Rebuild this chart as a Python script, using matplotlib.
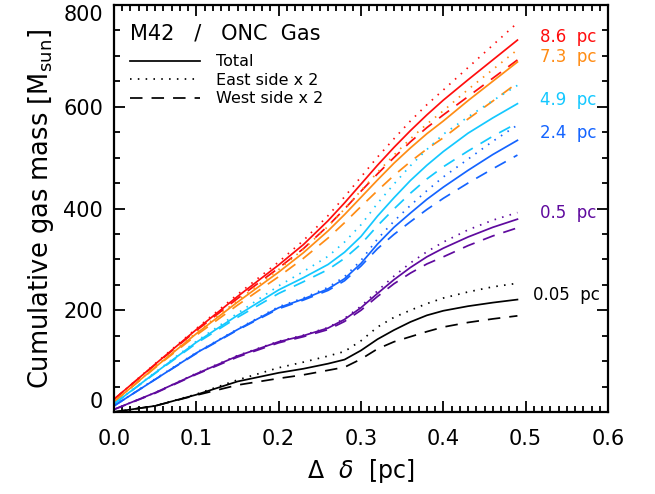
import numpy as np
import matplotlib
matplotlib.use("Agg")
import matplotlib.pyplot as plt
from matplotlib.lines import Line2D
from matplotlib.ticker import MultipleLocator, FormatStrFormatter

plt.rcParams['font.family'] = ['DejaVu Sans']
plt.rcParams['mathtext.fontset'] = 'dejavusans'

# ---- data ----
x = [0.0, 0.05, 0.10, 0.15, 0.20, 0.23, 0.26, 0.28, 0.30, 0.32, 0.34, 0.36,
     0.38, 0.40, 0.43, 0.46, 0.49]

radii = ["8.6 pc", "7.3 pc", "4.9 pc", "2.4 pc", "0.5 pc", "0.05 pc"]
colors = ["#FF0D0D", "#FF8C14", "#14C8FF", "#1464FF", "#5F0A9E", "#000000"]

total = {
    "8.6 pc": [25, 94, 162, 227, 289, 329, 376, 411, 448, 485, 520, 553, 584, 613, 653, 692, 731],
    "7.3 pc": [20, 88, 154, 216, 275, 313, 356, 388, 422, 456, 489, 519, 547, 572, 612, 650, 688],
    "4.9 pc": [16, 77, 137, 190, 240, 264, 290, 314, 345, 385, 421, 455, 485, 512, 548, 578, 606],
    "2.4 pc": [12, 64, 116, 162, 205, 222, 242, 262, 292, 330, 363, 391, 418, 442, 475, 506, 534],
    "0.5 pc": [5, 38, 75, 110, 138, 150, 165, 182, 205, 233, 260, 284, 305, 322, 344, 363, 379],
    "0.05 pc": [0, 12, 34, 60, 77, 85, 95, 103, 121, 143, 161, 177, 190, 199, 208, 215, 221],
}
east = {
    "8.6 pc": [25, 95, 164, 231, 295, 337, 386, 423, 462, 501, 537, 572, 604, 633, 677, 721, 765],
    "7.3 pc": [20, 89, 156, 219, 280, 320, 365, 399, 435, 471, 505, 537, 566, 592, 634, 673, 712],
    "4.9 pc": [16, 78, 139, 194, 248, 276, 306, 334, 368, 410, 448, 484, 516, 546, 580, 612, 642],
    "2.4 pc": [12, 65, 117, 163, 207, 224, 245, 266, 298, 340, 375, 406, 435, 462, 497, 532, 564],
    "0.5 pc": [5, 38, 76, 111, 139, 151, 166, 184, 208, 238, 267, 293, 315, 334, 358, 377, 392],
    "0.05 pc": [0, 12, 35, 63, 87, 98, 110, 119, 140, 167, 186, 200, 213, 224, 236, 246, 253],
}
west = {
    "8.6 pc": [25, 93, 160, 223, 283, 321, 366, 399, 434, 468, 500, 531, 559, 584, 620, 656, 692],
    "7.3 pc": [20, 87, 151, 210, 266, 302, 342, 372, 404, 435, 465, 492, 517, 539, 576, 611, 647],
    "4.9 pc": [16, 76, 135, 186, 233, 256, 280, 302, 330, 366, 399, 430, 458, 482, 513, 542, 568],
    "2.4 pc": [12, 64, 115, 161, 203, 220, 239, 258, 287, 321, 349, 374, 398, 420, 450, 478, 505],
    "0.5 pc": [5, 37, 74, 108, 136, 148, 162, 178, 200, 227, 252, 273, 291, 305, 327, 346, 362],
    "0.05 pc": [0, 12, 33, 53, 66, 73, 82, 88, 104, 124, 138, 148, 158, 167, 176, 183, 189],
}
label_y = [737, 698, 613, 548, 391, 230]

# ---- figure ----
fig = plt.figure(figsize=(6.55, 4.94), dpi=100)
ax = fig.add_axes([114/655, 1-412/494, 494/655, 407/494])

lw = 1.25
dash = (0, (9.0/lw, 6.5/lw))
dot = (0, (0.9, 3.6))
for r, c in zip(radii, colors):
    ax.plot(x, total[r], color=c, lw=lw, ls='-')
    ax.plot(x, east[r], color=c, lw=lw, ls=dot)
    ax.plot(x, west[r], color=c, lw=lw, ls=dash)

for r, c, ly in zip(radii, colors, label_y):
    lx = 0.509 if r == "0.05 pc" else 0.518
    ax.text(lx, ly, r.replace(" ", "  "), color=c, fontsize=12, va='center', ha='left')

ax.set_xlim(0, 0.6)
ax.set_ylim(0, 800)
ax.xaxis.set_major_locator(MultipleLocator(0.1))
ax.xaxis.set_minor_locator(MultipleLocator(0.01))
ax.yaxis.set_major_locator(MultipleLocator(200))
ax.yaxis.set_minor_locator(MultipleLocator(50))
ax.xaxis.set_major_formatter(FormatStrFormatter('%.1f'))
ax.tick_params(which='both', direction='in', top=True, right=True, width=1.3)
ax.tick_params(which='major', length=8, labelsize=15)
ax.tick_params(which='minor', length=4)
ax.tick_params(axis='y', which='major', pad=8)
ax.tick_params(axis='x', which='major', pad=12)
for s in ax.spines.values():
    s.set_linewidth(1.6)

fig.canvas.draw()
yt = ax.yaxis.get_major_ticks()
for t in yt:
    if abs(t.get_loc() - 0) < 1e-6:
        t.label1.set_verticalalignment('bottom')
    if abs(t.get_loc() - 800) < 1e-6:
        t.label1.set_verticalalignment('top')

ax.set_xlabel(r"$\Delta\ \ \delta\ $ [pc]", fontsize=17, labelpad=6)
ax.set_ylabel(r"Cumulative gas mass [M$_{\rm sun}$]", fontsize=18.5, labelpad=5)

handles = [Line2D([], [], color='k', lw=lw, ls='-'),
           Line2D([], [], color='k', lw=lw, ls=dot),
           Line2D([], [], color='k', lw=lw, ls=dash)]
leg = ax.legend(handles, ["Total", "East side x 2", "West side x 2"],
                title="M42   /   ONC  Gas", title_fontsize=15, fontsize=11.5,
                frameon=False, loc='upper left', bbox_to_anchor=(0.0, 0.995),
                handlelength=4.4, handletextpad=1.0, labelspacing=0.22,
                borderaxespad=0.6, alignment='left')
leg._legend_box.sep = 8

fig.savefig("out.png", dpi=100)
